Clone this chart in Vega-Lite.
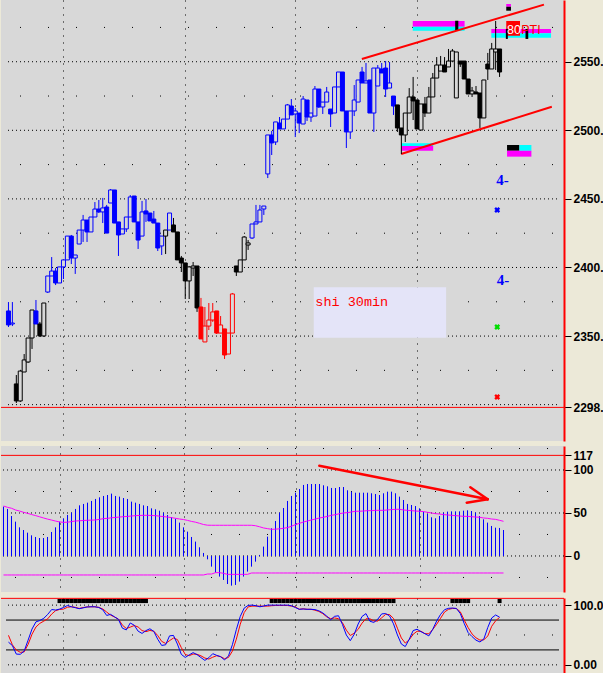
{
"$schema":"https://vega.github.io/schema/vega-lite/v6.json",
"background":"#ece9d8",
"padding":0,
"spacing":5,
"config":{"view":{"fill":"#d8d8d8","stroke":null},"axis":{"labelFont":"Liberation Sans","labelFontWeight":"bold","labelFontSize":12,"labelColor":"#000000","tickColor":"#000000","tickSize":7,"labelPadding":2,"domainColor":"#ff0000","domainWidth":2,"labelOverlap":false,"title":null}},
"datasets":{
"bars":[
{"i":0,"t":"bull","o":2368.3,"h":2374.8,"l":2356.6,"c":2358.1,"v":57.4,"s":58.1,"lo":-22.1,"K":38,"D":49.4,"ob":0},
{"i":1,"t":"bull","o":2358.8,"h":2374.8,"l":2357.3,"c":2359.5,"v":54.7,"s":56.6,"lo":-22.1,"K":32.3,"D":33.5,"ob":0},
{"i":2,"t":"neutral","o":2315.1,"h":2321.6,"l":2301.2,"c":2302.7,"v":46.5,"s":55.5,"lo":-22.1,"K":18,"D":24.8,"ob":0},
{"i":3,"t":"neutral","o":2302.7,"h":2324.5,"l":2301.9,"c":2324.5,"v":39.9,"s":53.5,"lo":-22.1,"K":17.7,"D":21,"ob":0},
{"i":4,"t":"neutral","o":2323.8,"h":2336.9,"l":2323.8,"c":2332.6,"v":33.3,"s":52.3,"lo":-22.1,"K":23,"D":21.7,"ob":0},
{"i":5,"t":"neutral","o":2331.1,"h":2348.6,"l":2330.4,"c":2348.6,"v":30.2,"s":50.8,"lo":-22.1,"K":41.4,"D":34.3,"ob":0},
{"i":6,"t":"neutral","o":2348.6,"h":2369.0,"l":2340.6,"c":2369.0,"v":27.1,"s":49.6,"lo":-22.1,"K":60,"D":51.3,"ob":0},
{"i":7,"t":"bull","o":2368.3,"h":2376.3,"l":2358.8,"c":2358.8,"v":24.0,"s":48.2,"lo":-22.1,"K":72,"D":63.4,"ob":0},
{"i":8,"t":"neutral","o":2358.8,"h":2360.3,"l":2349.3,"c":2350.1,"v":22.1,"s":47.0,"lo":-22.1,"K":74.2,"D":69.5,"ob":0},
{"i":9,"t":"neutral","o":2350.1,"h":2374.1,"l":2349.3,"c":2374.1,"v":20.9,"s":45.6,"lo":-22.1,"K":78,"D":73.2,"ob":0},
{"i":10,"t":"bull","o":2382.1,"h":2393.8,"l":2381.4,"c":2393.8,"v":20.9,"s":44.2,"lo":-22.1,"K":84.5,"D":77.1,"ob":0},
{"i":11,"t":"bull","o":2393.8,"h":2407.6,"l":2393.8,"c":2397.4,"v":22.1,"s":42.9,"lo":-22.1,"K":92.6,"D":85,"ob":0},
{"i":12,"t":"bull","o":2397.4,"h":2399.6,"l":2387.2,"c":2388.7,"v":27.9,"s":41.8,"lo":-22.1,"K":91.7,"D":90.7,"ob":0},
{"i":13,"t":"bull","o":2388.7,"h":2400.4,"l":2388.7,"c":2400.4,"v":33.3,"s":40.6,"lo":-22.1,"K":93.3,"D":92.7,"ob":1},
{"i":14,"t":"bull","o":2400.4,"h":2405.5,"l":2391.6,"c":2405.5,"v":39.9,"s":39.6,"lo":-22.1,"K":96,"D":93.3,"ob":1},
{"i":15,"t":"bull","o":2405.5,"h":2422.9,"l":2405.5,"c":2422.9,"v":43.8,"s":39.1,"lo":-22.1,"K":99.3,"D":96.4,"ob":1},
{"i":16,"t":"bull","o":2422.9,"h":2423.7,"l":2402.5,"c":2406.9,"v":47.7,"s":39.3,"lo":-22.1,"K":97.3,"D":97.2,"ob":1},
{"i":17,"t":"bull","o":2406.9,"h":2409.1,"l":2395.3,"c":2409.1,"v":50.4,"s":40.0,"lo":-22.1,"K":95.7,"D":96.3,"ob":1},
{"i":18,"t":"bull","o":2417.1,"h":2427.3,"l":2417.1,"c":2427.3,"v":54.7,"s":40.7,"lo":-22.1,"K":94,"D":94.4,"ob":1},
{"i":19,"t":"bull","o":2427.3,"h":2438.3,"l":2418.6,"c":2434.6,"v":58.9,"s":40.9,"lo":-22.1,"K":95.3,"D":95.9,"ob":1},
{"i":20,"t":"bull","o":2434.6,"h":2434.6,"l":2418.6,"c":2425.9,"v":60.5,"s":41.3,"lo":-22.1,"K":96.9,"D":96.9,"ob":1},
{"i":21,"t":"bull","o":2425.9,"h":2436.8,"l":2425.9,"c":2436.8,"v":62.0,"s":41.5,"lo":-22.1,"K":97.2,"D":97.2,"ob":1},
{"i":22,"t":"bull","o":2436.8,"h":2447.7,"l":2436.8,"c":2442.6,"v":64.0,"s":41.7,"lo":-22.1,"K":97.2,"D":97.2,"ob":1},
{"i":23,"t":"bull","o":2442.6,"h":2449.2,"l":2439.7,"c":2440.5,"v":66.3,"s":41.9,"lo":-22.1,"K":96,"D":96.2,"ob":1},
{"i":24,"t":"bull","o":2440.5,"h":2450.7,"l":2432.4,"c":2443.4,"v":68.2,"s":42.6,"lo":-22.1,"K":92.2,"D":93.5,"ob":1},
{"i":25,"t":"bull","o":2444.1,"h":2445.6,"l":2425.1,"c":2425.1,"v":69.8,"s":43.4,"lo":-22.1,"K":82.7,"D":88.4,"ob":1},
{"i":26,"t":"bull","o":2447.0,"h":2457.2,"l":2447.0,"c":2456.5,"v":70.9,"s":43.8,"lo":-22.1,"K":84.5,"D":83.3,"ob":1},
{"i":27,"t":"bull","o":2456.5,"h":2456.5,"l":2432.4,"c":2432.4,"v":72.5,"s":44.4,"lo":-22.1,"K":80.4,"D":80.0,"ob":1},
{"i":28,"t":"bull","o":2433.2,"h":2433.2,"l":2408.4,"c":2423.7,"v":69.8,"s":44.8,"lo":-22.1,"K":76.1,"D":76.5,"ob":1},
{"i":29,"t":"bull","o":2424.4,"h":2428.1,"l":2424.4,"c":2428.1,"v":69.0,"s":45.3,"lo":-22.1,"K":61.4,"D":66.5,"ob":1},
{"i":30,"t":"bull","o":2428.1,"h":2436.8,"l":2425.9,"c":2436.8,"v":67.4,"s":45.7,"lo":-22.1,"K":58.5,"D":60.9,"ob":1},
{"i":31,"t":"bull","o":2436.8,"h":2452.8,"l":2436.8,"c":2451.4,"v":66.3,"s":46.0,"lo":-22.1,"K":70.1,"D":63.2,"ob":1},
{"i":32,"t":"bull","o":2452.1,"h":2452.1,"l":2433.2,"c":2433.2,"v":63.2,"s":46.5,"lo":-22.1,"K":66.4,"D":65.8,"ob":1},
{"i":33,"t":"bull","o":2433.2,"h":2433.2,"l":2413.5,"c":2420.0,"v":62.0,"s":46.9,"lo":-22.1,"K":56.4,"D":63.4,"ob":1},
{"i":34,"t":"bull","o":2422.9,"h":2448.5,"l":2422.9,"c":2440.5,"v":60.5,"s":47.1,"lo":-22.1,"K":52.6,"D":57.4,"ob":1},
{"i":35,"t":"bull","o":2441.2,"h":2449.9,"l":2433.2,"c":2439.0,"v":58.9,"s":47.3,"lo":-22.1,"K":57.4,"D":55.6,"ob":1},
{"i":36,"t":"bull","o":2439.7,"h":2439.7,"l":2433.9,"c":2433.9,"v":58.1,"s":47.3,"lo":-22.1,"K":60.4,"D":57.6,"ob":0},
{"i":37,"t":"bull","o":2435.3,"h":2441.2,"l":2432.4,"c":2432.4,"v":55.4,"s":47.1,"lo":-22.1,"K":55.9,"D":56.3,"ob":0},
{"i":38,"t":"bull","o":2432.4,"h":2432.4,"l":2412.0,"c":2414.2,"v":54.3,"s":46.9,"lo":-22.1,"K":42.8,"D":49,"ob":0},
{"i":39,"t":"bull","o":2415.7,"h":2422.9,"l":2409.1,"c":2422.9,"v":52.7,"s":46.3,"lo":-22.1,"K":32.5,"D":39.3,"ob":0},
{"i":40,"t":"neutral","o":2422.9,"h":2427.3,"l":2409.8,"c":2427.3,"v":50.4,"s":45.8,"lo":-22.1,"K":33.6,"D":35.9,"ob":0},
{"i":41,"t":"bull","o":2427.3,"h":2439.7,"l":2427.3,"c":2439.7,"v":47.7,"s":45.2,"lo":-22.1,"K":48.5,"D":40.5,"ob":0},
{"i":42,"t":"neutral","o":2431.0,"h":2436.1,"l":2425.9,"c":2425.9,"v":45.0,"s":44.6,"lo":-22.1,"K":49.3,"D":44.9,"ob":0},
{"i":43,"t":"neutral","o":2425.9,"h":2425.9,"l":2405.5,"c":2405.5,"v":43.4,"s":43.8,"lo":-22.1,"K":34.8,"D":42.3,"ob":0},
{"i":44,"t":"neutral","o":2406.9,"h":2408.4,"l":2396.7,"c":2403.3,"v":38.8,"s":43.0,"lo":-22.1,"K":17.5,"D":28.8,"ob":0},
{"i":45,"t":"neutral","o":2403.3,"h":2403.3,"l":2377.0,"c":2390.2,"v":33.3,"s":42.4,"lo":-22.1,"K":12.4,"D":17.4,"ob":0},
{"i":46,"t":"neutral","o":2390.2,"h":2401.1,"l":2377.0,"c":2400.4,"v":28.3,"s":41.4,"lo":-22.1,"K":16.7,"D":15.3,"ob":0},
{"i":47,"t":"neutral","o":2399.6,"h":2404.0,"l":2393.8,"c":2401.1,"v":22.1,"s":40.2,"lo":-22.1,"K":20.5,"D":18.1,"ob":0},
{"i":48,"t":"neutral","o":2401.1,"h":2401.1,"l":2367.6,"c":2370.5,"v":16.7,"s":39.3,"lo":-22.1,"K":17.1,"D":17.7,"ob":0},
{"i":49,"t":"bear","o":2371.2,"h":2377.8,"l":2347.9,"c":2347.9,"v":10.1,"s":38.0,"lo":-22.1,"K":12.2,"D":15.1,"ob":0},
{"i":50,"t":"bear","o":2345.7,"h":2371.2,"l":2345.7,"c":2357.3,"v":3.5,"s":36.6,"lo":-22.1,"K":7.5,"D":11.4,"ob":0},
{"i":51,"t":"bear","o":2357.3,"h":2374.1,"l":2354.4,"c":2361.7,"v":-3.9,"s":35.8,"lo":-21.0,"K":12.1,"D":9.7,"ob":0},
{"i":52,"t":"bear","o":2361.7,"h":2374.1,"l":2360.3,"c":2367.6,"v":-12.4,"s":35.7,"lo":-21.0,"K":18.7,"D":12.8,"ob":0},
{"i":53,"t":"bear","o":2368.3,"h":2368.3,"l":2351.5,"c":2352.2,"v":-19.4,"s":35.7,"lo":-19.4,"K":15.9,"D":15.3,"ob":0},
{"i":54,"t":"bear","o":2352.2,"h":2364.6,"l":2352.2,"c":2358.1,"v":-24.0,"s":35.7,"lo":-19.4,"K":13.7,"D":13.7,"ob":0},
{"i":55,"t":"bear","o":2355.2,"h":2355.2,"l":2333.3,"c":2336.2,"v":-27.9,"s":35.7,"lo":-20.2,"K":8.2,"D":10.3,"ob":0},
{"i":56,"t":"bear","o":2336.9,"h":2352.2,"l":2336.9,"c":2352.2,"v":-32.6,"s":35.7,"lo":-21.4,"K":15,"D":12.4,"ob":0},
{"i":57,"t":"bear","o":2352.2,"h":2381.4,"l":2352.2,"c":2380.7,"v":-34.5,"s":35.7,"lo":-21.4,"K":33.7,"D":23,"ob":0},
{"i":58,"t":"neutral","o":2401.1,"h":2401.1,"l":2393.8,"c":2396.7,"v":-33.7,"s":35.7,"lo":-21.4,"K":59,"D":43,"ob":0},
{"i":59,"t":"neutral","o":2396.7,"h":2405.5,"l":2396.7,"c":2405.5,"v":-29.8,"s":35.7,"lo":-21.4,"K":81,"D":68,"ob":0},
{"i":60,"t":"neutral","o":2405.5,"h":2422.9,"l":2405.5,"c":2422.2,"v":-24.0,"s":35.7,"lo":-21.4,"K":95,"D":87.5,"ob":0},
{"i":61,"t":"neutral","o":2416.4,"h":2420.0,"l":2412.8,"c":2417.9,"v":-18.2,"s":35.7,"lo":-21.4,"K":99.5,"D":97,"ob":0},
{"i":62,"t":"bull","o":2421.5,"h":2431.7,"l":2420.8,"c":2431.7,"v":-12.4,"s":35.7,"lo":-19.8,"K":100,"D":98.3,"ob":0},
{"i":63,"t":"bull","o":2431.7,"h":2445.6,"l":2431.7,"c":2433.2,"v":-6.6,"s":35.2,"lo":-19.8,"K":99,"D":98.3,"ob":0},
{"i":64,"t":"bull","o":2433.2,"h":2445.6,"l":2433.2,"c":2441.9,"v":1.2,"s":34.0,"lo":-19.8,"K":97.2,"D":98.3,"ob":0},
{"i":65,"t":"bull","o":2442.6,"h":2444.8,"l":2438.3,"c":2444.8,"v":10.9,"s":32.6,"lo":-19.8,"K":98.5,"D":98.3,"ob":0},
{"i":66,"t":"bull","o":2468.2,"h":2496.6,"l":2465.2,"c":2496.6,"v":22.5,"s":31.8,"lo":-19.8,"K":100,"D":98.3,"ob":0},
{"i":67,"t":"bull","o":2496.6,"h":2499.5,"l":2482.0,"c":2490.8,"v":32.2,"s":31.0,"lo":-19.8,"K":100,"D":99,"ob":1},
{"i":68,"t":"bull","o":2491.5,"h":2506.1,"l":2489.3,"c":2506.1,"v":40.7,"s":31.2,"lo":-19.8,"K":100,"D":99.4,"ob":1},
{"i":69,"t":"bull","o":2505.3,"h":2509.7,"l":2501.0,"c":2501.0,"v":50.4,"s":31.6,"lo":-19.8,"K":100,"D":99.4,"ob":1},
{"i":70,"t":"bull","o":2501.0,"h":2508.2,"l":2501.0,"c":2508.2,"v":55.8,"s":32.2,"lo":-19.8,"K":100,"D":99.4,"ob":1},
{"i":71,"t":"bull","o":2508.2,"h":2519.2,"l":2508.2,"c":2518.5,"v":64.0,"s":33.0,"lo":-19.8,"K":100,"D":99.4,"ob":1},
{"i":72,"t":"bull","o":2517.7,"h":2522.8,"l":2511.2,"c":2511.2,"v":69.8,"s":34.6,"lo":-19.8,"K":99,"D":98.3,"ob":1},
{"i":73,"t":"bull","o":2511.9,"h":2516.3,"l":2495.1,"c":2514.1,"v":73.6,"s":36.5,"lo":-19.8,"K":96,"D":97,"ob":1},
{"i":74,"t":"bull","o":2512.6,"h":2512.6,"l":2498.0,"c":2505.3,"v":77.9,"s":38.0,"lo":-19.8,"K":93,"D":93,"ob":1},
{"i":75,"t":"bull","o":2504.6,"h":2525.0,"l":2504.6,"c":2522.8,"v":82.6,"s":39.5,"lo":-19.8,"K":93.5,"D":93.8,"ob":1},
{"i":76,"t":"bull","o":2522.1,"h":2522.1,"l":2506.8,"c":2509.7,"v":83.7,"s":40.7,"lo":-19.8,"K":93,"D":93,"ob":1},
{"i":77,"t":"bull","o":2509.7,"h":2512.6,"l":2506.1,"c":2512.6,"v":83.7,"s":41.9,"lo":-19.8,"K":93,"D":93,"ob":1},
{"i":78,"t":"bull","o":2510.4,"h":2532.3,"l":2510.4,"c":2530.1,"v":83.7,"s":43.0,"lo":-19.8,"K":92.5,"D":91.5,"ob":1},
{"i":79,"t":"bull","o":2530.1,"h":2530.1,"l":2516.3,"c":2517.0,"v":83.7,"s":44.2,"lo":-19.8,"K":90.5,"D":89.5,"ob":1},
{"i":80,"t":"bull","o":2517.0,"h":2520.6,"l":2511.9,"c":2520.6,"v":82.2,"s":45.0,"lo":-19.8,"K":87,"D":85.7,"ob":1},
{"i":81,"t":"bull","o":2520.6,"h":2531.6,"l":2520.6,"c":2527.9,"v":81.0,"s":46.1,"lo":-19.8,"K":81.6,"D":80.4,"ob":1},
{"i":82,"t":"bull","o":2515.5,"h":2515.5,"l":2502.4,"c":2511.9,"v":79.1,"s":47.3,"lo":-19.8,"K":75.5,"D":77.4,"ob":1},
{"i":83,"t":"bull","o":2512.6,"h":2531.6,"l":2512.6,"c":2531.6,"v":79.0,"s":48.1,"lo":-19.8,"K":81.2,"D":78.5,"ob":1},
{"i":84,"t":"bull","o":2531.6,"h":2542.5,"l":2531.6,"c":2542.5,"v":80.2,"s":49.2,"lo":-19.8,"K":82.2,"D":77.3,"ob":1},
{"i":85,"t":"bull","o":2542.5,"h":2542.5,"l":2514.1,"c":2514.1,"v":80.2,"s":50.0,"lo":-19.8,"K":67.8,"D":70.6,"ob":1},
{"i":86,"t":"bull","o":2514.1,"h":2514.1,"l":2487.1,"c":2498.8,"v":76.4,"s":50.4,"lo":-19.8,"K":49.9,"D":58.1,"ob":1},
{"i":87,"t":"bull","o":2498.8,"h":2514.1,"l":2493.7,"c":2514.1,"v":74.8,"s":51.2,"lo":-19.8,"K":40.5,"D":49.2,"ob":1},
{"i":88,"t":"bull","o":2514.1,"h":2533.0,"l":2510.4,"c":2522.1,"v":73.6,"s":52.0,"lo":-19.8,"K":51.1,"D":52.9,"ob":1},
{"i":89,"t":"bull","o":2520.6,"h":2536.7,"l":2520.6,"c":2536.7,"v":73.6,"s":52.0,"lo":-19.8,"K":68.3,"D":59.4,"ob":1},
{"i":90,"t":"bull","o":2542.5,"h":2546.2,"l":2534.5,"c":2534.5,"v":73.6,"s":52.3,"lo":-19.8,"K":81,"D":69.9,"ob":1},
{"i":91,"t":"bull","o":2534.5,"h":2549.1,"l":2534.5,"c":2536.0,"v":73.6,"s":52.7,"lo":-19.8,"K":85.8,"D":77.1,"ob":1},
{"i":92,"t":"bull","o":2536.7,"h":2536.7,"l":2512.6,"c":2512.6,"v":72.9,"s":52.7,"lo":-19.8,"K":73,"D":77.1,"ob":1},
{"i":93,"t":"bull","o":2512.6,"h":2545.4,"l":2498.8,"c":2545.4,"v":72.1,"s":53.1,"lo":-19.8,"K":71,"D":73.5,"ob":1},
{"i":94,"t":"bull","o":2532.3,"h":2547.6,"l":2532.3,"c":2545.4,"v":70.9,"s":53.1,"lo":-19.8,"K":76.4,"D":73.3,"ob":1},
{"i":95,"t":"bull","o":2544.7,"h":2549.1,"l":2541.8,"c":2541.8,"v":72.9,"s":53.1,"lo":-19.8,"K":85.3,"D":78.8,"ob":1},
{"i":96,"t":"bull","o":2545.4,"h":2550.5,"l":2524.3,"c":2530.1,"v":74.8,"s":53.5,"lo":-19.8,"K":85.9,"D":84.5,"ob":1},
{"i":97,"t":"bull","o":2530.8,"h":2549.8,"l":2530.8,"c":2534.5,"v":74.8,"s":53.9,"lo":-19.8,"K":81.8,"D":84.2,"ob":1},
{"i":98,"t":"bull","o":2525.0,"h":2525.0,"l":2511.2,"c":2517.7,"v":72.9,"s":54.3,"lo":-19.8,"K":68.7,"D":77.7,"ob":1},
{"i":99,"t":"neutral","o":2518.5,"h":2518.5,"l":2498.8,"c":2501.7,"v":69.0,"s":54.3,"lo":-19.8,"K":50,"D":61.3,"ob":0},
{"i":100,"t":"neutral","o":2501.7,"h":2501.7,"l":2482.7,"c":2496.6,"v":65.1,"s":53.5,"lo":-19.8,"K":34.9,"D":45,"ob":0},
{"i":101,"t":"neutral","o":2496.6,"h":2512.6,"l":2491.5,"c":2512.6,"v":60.5,"s":53.1,"lo":-19.8,"K":30.6,"D":36.5,"ob":0},
{"i":102,"t":"neutral","o":2512.6,"h":2530.8,"l":2512.6,"c":2524.3,"v":59.3,"s":52.7,"lo":-19.8,"K":42.8,"D":41.9,"ob":0},
{"i":103,"t":"neutral","o":2524.3,"h":2538.9,"l":2507.5,"c":2521.4,"v":58.1,"s":52.3,"lo":-19.8,"K":57.4,"D":51.2,"ob":0},
{"i":104,"t":"neutral","o":2522.1,"h":2522.1,"l":2501.0,"c":2501.0,"v":55.4,"s":52.0,"lo":-19.8,"K":59.6,"D":56.2,"ob":0},
{"i":105,"t":"neutral","o":2500.2,"h":2519.2,"l":2500.2,"c":2519.2,"v":51.6,"s":51.6,"lo":-19.8,"K":55.5,"D":56.3,"ob":0},
{"i":106,"t":"neutral","o":2519.2,"h":2524.3,"l":2509.7,"c":2512.6,"v":48.8,"s":50.8,"lo":-19.8,"K":52.1,"D":52.2,"ob":0},
{"i":107,"t":"neutral","o":2512.6,"h":2531.6,"l":2512.6,"c":2524.3,"v":45.0,"s":50.0,"lo":-19.8,"K":48.5,"D":52,"ob":0},
{"i":108,"t":"neutral","o":2524.3,"h":2541.8,"l":2524.3,"c":2538.1,"v":43.8,"s":49.2,"lo":-19.8,"K":59.7,"D":59.3,"ob":0},
{"i":109,"t":"neutral","o":2538.1,"h":2553.4,"l":2538.1,"c":2547.6,"v":46.5,"s":48.8,"lo":-19.8,"K":73.6,"D":68.1,"ob":0},
{"i":110,"t":"neutral","o":2543.2,"h":2554.2,"l":2543.2,"c":2547.6,"v":50.4,"s":48.1,"lo":-19.8,"K":84.6,"D":78.1,"ob":0},
{"i":111,"t":"neutral","o":2547.6,"h":2553.4,"l":2542.5,"c":2542.5,"v":51.6,"s":47.7,"lo":-19.8,"K":92.4,"D":88.5,"ob":0},
{"i":112,"t":"neutral","o":2546.2,"h":2559.3,"l":2546.2,"c":2550.5,"v":51.9,"s":47.3,"lo":-19.8,"K":94.6,"D":92.9,"ob":0},
{"i":113,"t":"neutral","o":2550.5,"h":2559.3,"l":2550.5,"c":2557.8,"v":51.9,"s":46.9,"lo":-19.8,"K":95.1,"D":94.4,"ob":1},
{"i":114,"t":"neutral","o":2523.6,"h":2557.1,"l":2523.6,"c":2557.1,"v":51.9,"s":46.5,"lo":-19.8,"K":94.4,"D":94.4,"ob":1},
{"i":115,"t":"neutral","o":2550.5,"h":2550.5,"l":2546.2,"c":2548.3,"v":52.7,"s":46.1,"lo":-19.8,"K":85.9,"D":88.8,"ob":1},
{"i":116,"t":"neutral","o":2550.5,"h":2550.5,"l":2537.4,"c":2537.4,"v":53.1,"s":46.1,"lo":-19.8,"K":69.2,"D":75,"ob":1},
{"i":117,"t":"neutral","o":2537.4,"h":2537.4,"l":2526.5,"c":2526.5,"v":52.3,"s":45.7,"lo":-19.8,"K":53.9,"D":62.4,"ob":1},
{"i":118,"t":"neutral","o":2526.5,"h":2531.6,"l":2524.3,"c":2528.7,"v":50.4,"s":45.3,"lo":-19.8,"K":47.3,"D":51.7,"ob":0},
{"i":119,"t":"neutral","o":2527.9,"h":2532.3,"l":2526.5,"c":2526.5,"v":46.5,"s":45.0,"lo":-19.8,"K":41.3,"D":45.3,"ob":0},
{"i":120,"t":"neutral","o":2527.2,"h":2527.2,"l":2501.7,"c":2509.0,"v":42.6,"s":44.2,"lo":-19.8,"K":38.3,"D":41.4,"ob":0},
{"i":121,"t":"neutral","o":2509.0,"h":2536.7,"l":2509.0,"c":2536.7,"v":38.8,"s":43.8,"lo":-19.8,"K":43.3,"D":41.8,"ob":0},
{"i":122,"t":"neutral","o":2548.3,"h":2556.4,"l":2536.7,"c":2544.7,"v":34.9,"s":43.0,"lo":-19.8,"K":62.6,"D":48.4,"ob":0},
{"i":123,"t":"neutral","o":2544.7,"h":2563.7,"l":2544.7,"c":2559.3,"v":32.9,"s":42.6,"lo":-19.8,"K":78.5,"D":64.6,"ob":0},
{"i":124,"t":"neutral","o":2557.1,"h":2579.7,"l":2544.0,"c":2559.3,"v":32.6,"s":41.5,"lo":-19.8,"K":83.5,"D":73.8,"ob":0},
{"i":125,"t":"neutral","o":2559.3,"h":2559.3,"l":2538.9,"c":2542.5,"v":30.2,"s":40.3,"lo":-19.8,"K":79.8,"D":79.4,"ob":1}
],
"hgrid":[
{"p":"main","g":"major","y":2300},{"p":"main","g":"major","y":2350},{"p":"main","g":"major","y":2400},{"p":"main","g":"major","y":2450},{"p":"main","g":"major","y":2500},{"p":"main","g":"major","y":2550},
{"p":"main","g":"minor","y":2325},{"p":"main","g":"minor","y":2375},{"p":"main","g":"minor","y":2425},{"p":"main","g":"minor","y":2475},{"p":"main","g":"minor","y":2525},{"p":"main","g":"minor","y":2575},
{"p":"ind","g":"major","y":0},{"p":"ind","g":"major","y":50},{"p":"ind","g":"major","y":100},
{"p":"ind","g":"minor","y":-25},{"p":"ind","g":"minor","y":25},{"p":"ind","g":"minor","y":75},{"p":"ind","g":"minor","y":125},
{"p":"sto","g":"major","y":0},{"p":"sto","g":"major","y":100},{"p":"sto","g":"minor","y":50},
{"p":"sto","g":"level","y":25},{"p":"sto","g":"level","y":75}
],
"rects":[
{"kind":"textbox","x1":77.7,"x2":111.4,"y1":2385.6,"y2":2348.8},
{"kind":"zoneA","x1":102.9,"x2":116.1,"y1":2579.7,"y2":2575.5},
{"kind":"zoneB","x1":102.9,"x2":116.1,"y1":2575.5,"y2":2572.6},
{"kind":"mark","x1":113.7,"x2":114.5,"y1":2579.9,"y2":2572.6},
{"kind":"zoneA","x1":122.9,"x2":138.1,"y1":2573.9,"y2":2570.7},
{"kind":"zoneB","x1":122.9,"x2":138.1,"y1":2570.7,"y2":2567.5},
{"kind":"tag","x1":126.7,"x2":130.2,"y1":2579.7,"y2":2569.0},
{"kind":"mark","x1":126.6,"x2":127.1,"y1":2573.9,"y2":2566.6},
{"kind":"mark","x1":131.6,"x2":132.3,"y1":2573.9,"y2":2566.6},
{"kind":"zoneA","x1":126.7,"x2":127.9,"y1":2592.1,"y2":2590.1},
{"kind":"mark","x1":126.7,"x2":127.9,"y1":2590.1,"y2":2587.2},
{"kind":"zoneB","x1":100.05,"x2":108.1,"y1":2490.5,"y2":2488.6},
{"kind":"zoneA","x1":100.05,"x2":108.1,"y1":2488.6,"y2":2485.1},
{"kind":"mark","x1":126.9,"x2":130.05,"y1":2489.3,"y2":2485.1},
{"kind":"zoneB","x1":130.05,"x2":133.1,"y1":2489.3,"y2":2485.1},
{"kind":"zoneA","x1":126.9,"x2":133.1,"y1":2485.1,"y2":2480.8}
],
"segs":[
{"p":"main","x1":89.95,"y1":2552.0,"x2":136.3,"y2":2591.6},
{"p":"main","x1":99.95,"y1":2482.7,"x2":138.3,"y2":2517.2},
{"p":"ind","x1":78.95,"y1":105.0,"x2":121.05,"y2":65.9},
{"p":"ind","x1":116.7,"y1":79.9,"x2":121.05,"y2":65.9},
{"p":"ind","x1":115.8,"y1":62.0,"x2":121.05,"y2":65.9}
],
"notes":[
{"kind":"title","x":78.1,"y":2372,"txt":"shi 30min"},
{"kind":"tagw","x":126.9,"y":2570.2,"txt":"80"},
{"kind":"tagr","x":130.5,"y":2570.2,"txt":"PTI"},
{"kind":"four","x":125.75,"y":2463.8,"txt":"4-"},
{"kind":"four","x":125.9,"y":2390.9,"txt":"4-"}
],
"syms":[
{"kind":"s1","x":124.4,"y":2441.9},
{"kind":"s2","x":124.4,"y":2356.6},
{"kind":"s3","x":124.4,"y":2305.6}
]
},
"vconcat":[
{
"width":563,"height":441,
"resolve":{"scale":{"fill":"independent","stroke":"independent","color":"independent"}},
"layer":[
{"data":{"name":"hgrid"},"transform":[{"filter":"datum.p == 'main' && datum.g == 'major'"}],
 "mark":{"type":"rule","color":"#000000","strokeWidth":1,"strokeDash":[1,3],"strokeDashOffset":2},
 "encoding":{
  "x":{"datum":-0.625,"type":"quantitative","scale":{"domain":[-0.625,140.125],"nice":false,"zero":false},
       "axis":{"orient":"bottom","title":null,"values":[14,45,73,104],"grid":true,"gridColor":"#000000","gridDash":[1,6],"labels":false,"ticks":false,"domain":false,"minExtent":0,"maxExtent":0}},
  "x2":{"datum":140.125},
  "y":{"field":"y","type":"quantitative","scale":{"domain":[2273.5,2595],"nice":false,"zero":false},
       "axis":{"orient":"right","title":null,"grid":false,"labelOverlap":false,"values":[2298,2350,2400,2450,2500,2550],
         "labelExpr":"datum.value + '.'"}}}},
{"data":{"name":"hgrid"},"transform":[{"filter":"datum.p == 'main' && datum.g == 'minor'"}],
 "mark":{"type":"rule","color":"#000000","strokeWidth":1,"strokeDash":[1,27],"strokeDashOffset":14},
 "encoding":{
  "x":{"datum":-0.625,"type":"quantitative","scale":{"domain":[-0.625,140.125],"nice":false,"zero":false}},
  "x2":{"datum":140.125},
  "y":{"field":"y","type":"quantitative","scale":{"domain":[2273.5,2595],"nice":false,"zero":false}}}},
{"data":{"name":"rects"},"mark":{"type":"rect"},
 "encoding":{
  "x":{"field":"x1","type":"quantitative","scale":{"domain":[-0.625,140.125],"nice":false,"zero":false}},
  "x2":{"field":"x2"},
  "y":{"field":"y1","type":"quantitative","scale":{"domain":[2273.5,2595],"nice":false,"zero":false}},
  "y2":{"field":"y2"},
  "fill":{"field":"kind","type":"nominal","scale":{"domain":["textbox","zoneA","zoneB","mark","tag"],"range":["#e4e4f8","#ff00ff","#00ffff","#000000","#ff0000"]},"legend":null}
 }},
{"data":{"name":"segs"},"transform":[{"filter":"datum.p == 'main'"}],"mark":{"type":"rule","color":"#ff0000","strokeWidth":2},
 "encoding":{
  "x":{"field":"x1","type":"quantitative","scale":{"domain":[-0.625,140.125],"nice":false,"zero":false}},
  "x2":{"field":"x2"},
  "y":{"field":"y1","type":"quantitative","scale":{"domain":[2273.5,2595],"nice":false,"zero":false}},
  "y2":{"field":"y2"}}},
{"data":{"values":[{}]},"mark":{"type":"rule","stroke":"#ff0000","strokeWidth":1},
 "encoding":{"y":{"datum":2298,"type":"quantitative","scale":{"domain":[2273.5,2595],"nice":false,"zero":false}}}},
{"data":{"name":"bars"},"mark":{"type":"rule","strokeWidth":1},
 "encoding":{
  "x":{"field":"i","type":"quantitative","scale":{"domain":[-0.625,140.125],"nice":false,"zero":false}},
  "y":{"field":"l","type":"quantitative","scale":{"domain":[2273.5,2595],"nice":false,"zero":false}},
  "y2":{"field":"h"},
  "stroke":{"field":"t","type":"nominal","scale":{"domain":["bull","neutral","bear"],"range":["#0000ff","#000000","#ff0000"]},"legend":null}}},
{"data":{"name":"bars"},"mark":{"type":"bar","size":4,"strokeWidth":1},
 "encoding":{
  "x":{"field":"i","type":"quantitative","scale":{"domain":[-0.625,140.125],"nice":false,"zero":false}},
  "y":{"field":"o","type":"quantitative","scale":{"domain":[2273.5,2595],"nice":false,"zero":false}},
  "y2":{"field":"c"},
  "stroke":{"field":"t","type":"nominal","scale":{"domain":["bull","neutral","bear"],"range":["#0000ff","#000000","#ff0000"]},"legend":null},
  "fill":{"field":"t","type":"nominal","scale":{"domain":["bull","neutral","bear"],"range":["#0000ff","#000000","#ff0000"]},"legend":null,
          "condition":{"test":"datum.c > datum.o","value":"#d8d8d8"}}}},
{"data":{"name":"notes"},"transform":[{"filter":"datum.kind == 'title'"}],
 "mark":{"type":"text","font":"Liberation Mono","fontSize":13.5,"color":"#ff0000","align":"left","baseline":"alphabetic"},
 "encoding":{
  "x":{"field":"x","type":"quantitative","scale":{"domain":[-0.625,140.125],"nice":false,"zero":false}},
  "y":{"field":"y","type":"quantitative","scale":{"domain":[2273.5,2595],"nice":false,"zero":false}},
  "text":{"field":"txt"}}},
{"data":{"name":"notes"},"transform":[{"filter":"datum.kind == 'tagw'"}],
 "mark":{"type":"text","font":"Liberation Sans","fontSize":12.5,"color":"#ffffff","align":"left","baseline":"alphabetic"},
 "encoding":{
  "x":{"field":"x","type":"quantitative","scale":{"domain":[-0.625,140.125],"nice":false,"zero":false}},
  "y":{"field":"y","type":"quantitative","scale":{"domain":[2273.5,2595],"nice":false,"zero":false}},
  "text":{"field":"txt"}}},
{"data":{"name":"notes"},"transform":[{"filter":"datum.kind == 'tagr'"}],
 "mark":{"type":"text","font":"Liberation Sans","fontSize":12.5,"color":"#ff0000","align":"left","baseline":"alphabetic"},
 "encoding":{
  "x":{"field":"x","type":"quantitative","scale":{"domain":[-0.625,140.125],"nice":false,"zero":false}},
  "y":{"field":"y","type":"quantitative","scale":{"domain":[2273.5,2595],"nice":false,"zero":false}},
  "text":{"field":"txt"}}},
{"data":{"name":"notes"},"transform":[{"filter":"datum.kind == 'four'"}],
 "mark":{"type":"text","font":"Liberation Serif","fontSize":15,"fontWeight":"bold","color":"#0000ff","align":"center","baseline":"middle"},
 "encoding":{
  "x":{"field":"x","type":"quantitative","scale":{"domain":[-0.625,140.125],"nice":false,"zero":false}},
  "y":{"field":"y","type":"quantitative","scale":{"domain":[2273.5,2595],"nice":false,"zero":false}},
  "text":{"field":"txt"}}},
{"data":{"name":"syms"},"mark":{"type":"point","shape":"cross","angle":45,"filled":true,"size":35,"opacity":1},
 "encoding":{
  "x":{"field":"x","type":"quantitative","scale":{"domain":[-0.625,140.125],"nice":false,"zero":false}},
  "y":{"field":"y","type":"quantitative","scale":{"domain":[2273.5,2595],"nice":false,"zero":false}},
  "color":{"field":"kind","type":"nominal","scale":{"domain":["s1","s2","s3"],"range":["#0000ff","#00dd00","#ff0000"]},"legend":null}}}
]
},
{
"width":563,"height":146,
"layer":[
{"data":{"name":"hgrid"},"transform":[{"filter":"datum.p == 'ind' && datum.g == 'major'"}],
 "mark":{"type":"rule","color":"#000000","strokeWidth":1,"strokeDash":[1,3],"strokeDashOffset":2},
 "encoding":{
  "x":{"datum":-0.625,"type":"quantitative","scale":{"domain":[-0.625,140.125],"nice":false,"zero":false},
       "axis":{"orient":"bottom","title":null,"values":[14,45,73,104],"grid":true,"gridColor":"#000000","gridDash":[1,6],"labels":false,"ticks":false,"domain":false,"minExtent":0,"maxExtent":0}},
  "x2":{"datum":140.125},
  "y":{"field":"y","type":"quantitative","scale":{"domain":[-41.9,127.9],"nice":false,"zero":false},
       "axis":{"orient":"right","title":null,"grid":false,"labelOverlap":false,"values":[0,50,100,117],
         "labelExpr":"'' + datum.value"}}}},
{"data":{"name":"hgrid"},"transform":[{"filter":"datum.p == 'ind' && datum.g == 'minor'"}],
 "mark":{"type":"rule","color":"#000000","strokeWidth":1,"strokeDash":[1,27],"strokeDashOffset":14},
 "encoding":{
  "x":{"datum":-0.625,"type":"quantitative","scale":{"domain":[-0.625,140.125],"nice":false,"zero":false}},
  "x2":{"datum":140.125},
  "y":{"field":"y","type":"quantitative","scale":{"domain":[-41.9,127.9],"nice":false,"zero":false}}}},
{"data":{"name":"bars"},"mark":{"type":"rule","stroke":"#0000ff","strokeWidth":1},
 "encoding":{
  "x":{"field":"i","type":"quantitative","scale":{"domain":[-0.625,140.125],"nice":false,"zero":false}},
  "y":{"field":"v","type":"quantitative","scale":{"domain":[-41.9,127.9],"nice":false,"zero":false}},
  "y2":{"datum":0}}},
{"data":{"name":"bars"},"mark":{"type":"line","stroke":"#ff00ff","strokeWidth":1},
 "encoding":{
  "x":{"field":"i","type":"quantitative","scale":{"domain":[-0.625,140.125],"nice":false,"zero":false}},
  "y":{"field":"s","type":"quantitative","scale":{"domain":[-41.9,127.9],"nice":false,"zero":false}}}},
{"data":{"name":"bars"},"mark":{"type":"line","stroke":"#ff00ff","strokeWidth":1},
 "encoding":{
  "x":{"field":"i","type":"quantitative","scale":{"domain":[-0.625,140.125],"nice":false,"zero":false}},
  "y":{"field":"lo","type":"quantitative","scale":{"domain":[-41.9,127.9],"nice":false,"zero":false}}}},
{"data":{"values":[{}]},"mark":{"type":"rule","stroke":"#ff0000","strokeWidth":1},
 "encoding":{"y":{"datum":117,"type":"quantitative","scale":{"domain":[-41.9,127.9],"nice":false,"zero":false}}}},
{"data":{"name":"segs"},"transform":[{"filter":"datum.p == 'ind'"}],"mark":{"type":"rule","stroke":"#ff0000","strokeWidth":2.5,"strokeCap":"round"},
 "encoding":{
  "x":{"field":"x1","type":"quantitative","scale":{"domain":[-0.625,140.125],"nice":false,"zero":false}},
  "x2":{"field":"x2"},
  "y":{"field":"y1","type":"quantitative","scale":{"domain":[-41.9,127.9],"nice":false,"zero":false}},
  "y2":{"field":"y2"}}}
]
},
{
"width":563,"height":76,
"layer":[
{"data":{"name":"hgrid"},"transform":[{"filter":"datum.p == 'sto' && datum.g == 'major'"}],
 "mark":{"type":"rule","color":"#000000","strokeWidth":1,"strokeDash":[1,3],"strokeDashOffset":2},
 "encoding":{
  "x":{"datum":-0.625,"type":"quantitative","scale":{"domain":[-0.625,140.125],"nice":false,"zero":false},
       "axis":{"orient":"bottom","title":null,"values":[14,45,73,104],"grid":true,"gridColor":"#000000","gridDash":[1,6],"labels":false,"ticks":false,"domain":false,"minExtent":0,"maxExtent":0}},
  "x2":{"datum":140.125},
  "y":{"field":"y","type":"quantitative","scale":{"domain":[-15.3,111.9],"nice":false,"zero":false},
       "axis":{"orient":"right","title":null,"grid":false,"labelOverlap":false,"values":[0,100],
         "labelExpr":"datum.value == 100 ? '100.0' : '0.00'"}}}},
{"data":{"name":"hgrid"},"transform":[{"filter":"datum.p == 'sto' && datum.g == 'minor'"}],
 "mark":{"type":"rule","color":"#000000","strokeWidth":1,"strokeDash":[1,27],"strokeDashOffset":14},
 "encoding":{
  "x":{"datum":-0.625,"type":"quantitative","scale":{"domain":[-0.625,140.125],"nice":false,"zero":false}},
  "x2":{"datum":140.125},
  "y":{"field":"y","type":"quantitative","scale":{"domain":[-15.3,111.9],"nice":false,"zero":false}}}},
{"data":{"name":"hgrid"},"transform":[{"filter":"datum.p == 'sto' && datum.g == 'level'"}],
 "mark":{"type":"rule","color":"#000000","strokeWidth":1},
 "encoding":{
  "x":{"datum":-0.625,"type":"quantitative","scale":{"domain":[-0.625,140.125],"nice":false,"zero":false}},
  "x2":{"datum":140.125},
  "y":{"field":"y","type":"quantitative","scale":{"domain":[-15.3,111.9],"nice":false,"zero":false}}}},
{"data":{"name":"bars"},"transform":[{"filter":"datum.ob == 1"}],"mark":{"type":"bar","size":4,"color":"#000000"},
 "encoding":{
  "x":{"field":"i","type":"quantitative","scale":{"domain":[-0.625,140.125],"nice":false,"zero":false}},
  "y":{"datum":103.4,"type":"quantitative","scale":{"domain":[-15.3,111.9],"nice":false,"zero":false}},
  "y2":{"datum":110.2}}},
{"data":{"values":[{}]},"mark":{"type":"rule","stroke":"#ff0000","strokeWidth":1},
 "encoding":{"y":{"datum":111.3,"type":"quantitative","scale":{"domain":[-15.3,111.9],"nice":false,"zero":false}}}},
{"data":{"name":"bars"},"mark":{"type":"line","stroke":"#ff0000","strokeWidth":1},
 "encoding":{
  "x":{"field":"i","type":"quantitative","scale":{"domain":[-0.625,140.125],"nice":false,"zero":false}},
  "y":{"field":"D","type":"quantitative","scale":{"domain":[-15.3,111.9],"nice":false,"zero":false}}}},
{"data":{"name":"bars"},"mark":{"type":"line","stroke":"#0000ff","strokeWidth":1},
 "encoding":{
  "x":{"field":"i","type":"quantitative","scale":{"domain":[-0.625,140.125],"nice":false,"zero":false}},
  "y":{"field":"K","type":"quantitative","scale":{"domain":[-15.3,111.9],"nice":false,"zero":false}}}}
]
}
]
}
